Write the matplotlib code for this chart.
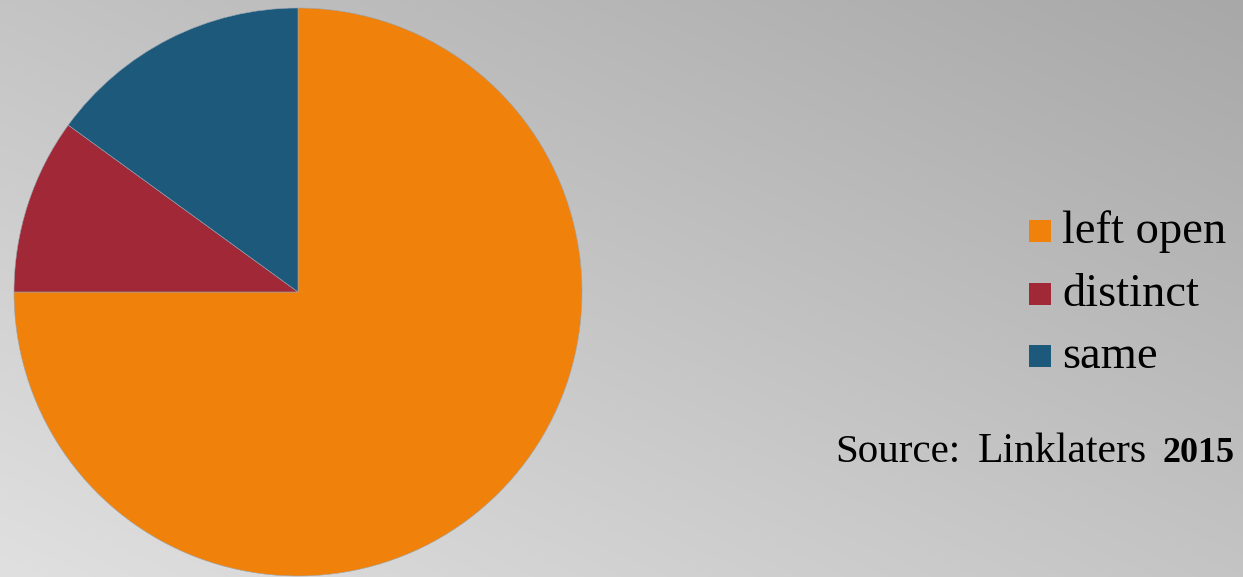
import numpy as np
import matplotlib
matplotlib.use("Agg")
import matplotlib.pyplot as plt
from matplotlib.patches import Rectangle

categories = ["left open", "distinct", "same"]
shares = [75, 10, 15]
colors = ["#F0810A", "#A02837", "#1D597B"]
source_label = "Source:"
source_name = "Linklaters"
source_year = "2015"

W, H, DPI = 1243, 577, 100
fig = plt.figure(figsize=(W / DPI, H / DPI), dpi=DPI)

# diagonal grey gradient background: light bottom-left, darker top-right
bg = fig.add_axes([0, 0, 1, 1], zorder=-10)
gx, gy = np.meshgrid(np.linspace(0, 1, 400), np.linspace(0, 1, 200))
val = (224 - 28 * gx - 28 * gy) / 255.0
bg.imshow(np.dstack([val, val, val]), origin="lower", extent=[0, 1, 0, 1],
          aspect="auto", interpolation="bilinear")
bg.set_axis_off()

# pie
cx, cy, r = 298, H - 292, 284
ax = fig.add_axes([(cx - r) / W, (cy - r) / H, 2 * r / W, 2 * r / H])
ax.pie(shares, colors=colors, startangle=90, counterclock=False, radius=1,
       wedgeprops=dict(linewidth=0.4, edgecolor="#9aa6b2"))
ax.set_xlim(-1, 1)
ax.set_ylim(-1, 1)
ax.set_aspect("equal")
ax.set_axis_off()

# legend
serif = ["Liberation Serif", "DejaVu Serif"]
for i, (lab, col) in enumerate(zip(categories, colors)):
    top = 220 + i * 62.5
    fig.patches.append(Rectangle((1029 / W, 1 - (top + 22) / H), 22 / W, 22 / H,
                                 transform=fig.transFigure, facecolor=col,
                                 edgecolor="none"))
    fig.text(1062 / W, 1 - (top + 23) / H, lab, family=serif, fontsize=33.5,
             color="black", va="baseline", ha="left")

# source note
base = 1 - 462 / H
fig.text(835 / W, base, source_label, family=serif, fontsize=29.5,
         va="baseline", ha="left")
fig.text(978 / W, base, source_name, family=serif, fontsize=30,
         va="baseline", ha="left")
fig.text(1162 / W, base, source_year, family=serif, fontsize=26,
         fontweight="bold", va="baseline", ha="left")

fig.savefig("out.png", dpi=DPI)
